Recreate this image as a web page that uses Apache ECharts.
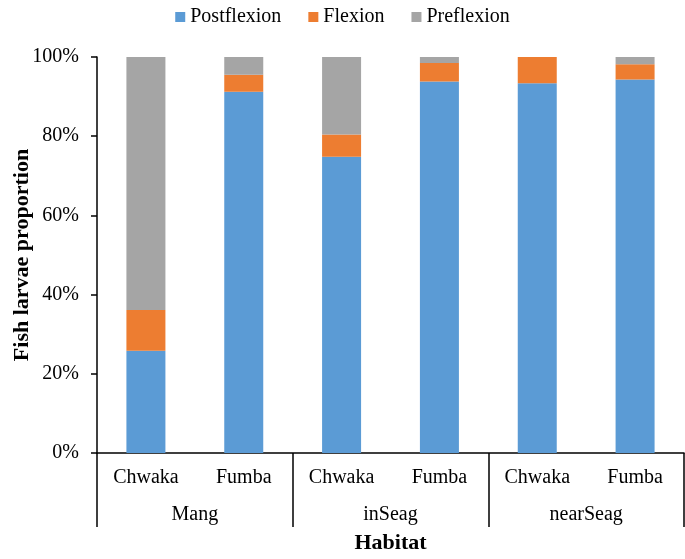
<!DOCTYPE html>
<html><head><meta charset="utf-8">
<script src="https://cdn.jsdelivr.net/npm/echarts@6/dist/echarts.min.js"></script>
<style>html,body{margin:0;padding:0;background:#fff}#c{width:685px;height:559px}</style>
</head><body><div id="c"></div>
<script>
const sites = ['Chwaka','Fumba','Chwaka','Fumba','Chwaka','Fumba'];
const habitats = ['Mang','inSeag','nearSeag'];
const postflexion = [25.8, 91.2, 74.8, 93.8, 93.4, 94.3];
const flexion = [10.3, 4.3, 5.6, 4.7, 6.6, 3.9];
const preflexion = [63.9, 4.5, 19.6, 1.5, 0, 1.8];
const yTicks = [0, 20, 40, 60, 80, 100];

const font = 'Liberation Serif';
const chart = echarts.init(document.getElementById('c'));
const mk = (name, data, color) => ({
  name, type: 'bar', stack: 'a', data, barWidth: 39,
  itemStyle: { color }, xAxisIndex: 0
});
chart.setOption({
  animation: false,
  textStyle: { fontFamily: font },
  legend: {
    top: 2, left: 'center', icon: 'rect', itemWidth: 10, itemHeight: 10, itemGap: 27,
    textStyle: { fontFamily: font, fontSize: 20, color: '#000' },
    data: ['Postflexion', 'Flexion', 'Preflexion']
  },
  grid: { left: 97, right: 1, top: 57, bottom: 106, containLabel: false, outerBoundsMode: 'none' },
  xAxis: [
    {
      type: 'category', data: sites, position: 'bottom',
      axisLine: { show: true, lineStyle: { color: '#000', width: 1.5 } },
      axisTick: { show: false },
      axisLabel: { margin: 15, fontSize: 20, color: '#000', fontFamily: font, interval: 0 },
      name: 'Habitat', nameLocation: 'middle', nameGap: 79, nameMoveOverlap: false,
      nameTextStyle: { fontSize: 22, fontWeight: 'bold', color: '#000', fontFamily: font }
    },
    {
      type: 'category', data: habitats, position: 'bottom', boundaryGap: true,
      axisLine: { show: false },
      axisTick: { show: true, length: 74, interval: 0, lineStyle: { color: '#000', width: 1.5 } },
      axisLabel: { margin: 52, fontSize: 20, color: '#000', fontFamily: font, interval: 0 }
    }
  ],
  yAxis: {
    type: 'value', min: yTicks[0], max: yTicks[yTicks.length - 1], interval: 20,
    axisLine: { show: true, lineStyle: { color: '#000', width: 1.5 } },
    axisTick: { show: true, length: 6, lineStyle: { color: '#000', width: 1.5 } },
    splitLine: { show: false },
    axisLabel: { formatter: v => v + '%', fontSize: 20, color: '#000', fontFamily: font, margin: 18 },
    name: 'Fish larvae proportion', nameLocation: 'middle', nameGap: 64, nameMoveOverlap: false,
    nameTextStyle: { fontSize: 22, fontWeight: 'bold', color: '#000', fontFamily: font }
  },
  series: [
    mk('Postflexion', postflexion, '#5B9BD5'),
    mk('Flexion', flexion, '#ED7D31'),
    mk('Preflexion', preflexion, '#A5A5A5')
  ]
});
</script></body></html>
